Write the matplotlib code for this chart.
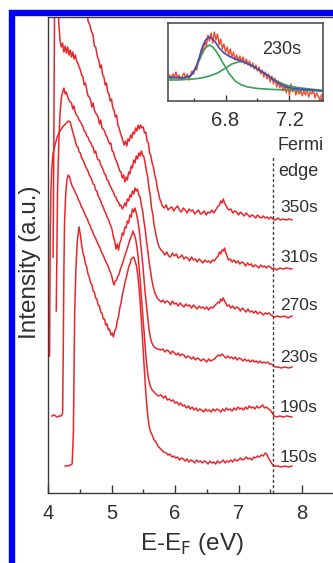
import numpy as np
import matplotlib.pyplot as plt
from matplotlib.patches import Rectangle
from matplotlib.ticker import MultipleLocator

plt.rcParams['font.family'] = ['Liberation Sans', 'DejaVu Sans']

# photoemission spectra, (E - E_F [eV], intensity [a.u.]), already offset
s350 = [(4.00, 600), (4.05, 690), (4.10, 700), (4.20, 680), (4.30, 640), (4.40, 600), (4.50, 560), (4.58, 520),
        (4.61, 490), (4.63, 472), (4.66, 468), (4.68, 462), (4.71, 458), (4.73, 447), (4.75, 446), (4.78, 436),
        (4.80, 433), (4.82, 425), (4.84, 428), (4.86, 418), (4.88, 416), (4.90, 408), (4.92, 410), (4.94, 401),
        (4.96, 399), (4.98, 392), (5.00, 394), (5.02, 385), (5.04, 383), (5.06, 376), (5.08, 378), (5.10, 368),
        (5.12, 365), (5.14, 360), (5.16, 356), (5.18, 352), (5.20, 348), (5.22, 352), (5.24, 347), (5.26, 354),
        (5.28, 352), (5.30, 358), (5.32, 355), (5.34, 361), (5.36, 359), (5.38, 365), (5.40, 362), (5.42, 368),
        (5.44, 364), (5.46, 368), (5.48, 365), (5.50, 366), (5.52, 360), (5.54, 361), (5.56, 352), (5.58, 350),
        (5.60, 340), (5.62, 337), (5.64, 330), (5.66, 326), (5.68, 318), (5.70, 314), (5.72, 305), (5.74, 300),
        (5.76, 294), (5.78, 291), (5.80, 287), (5.83, 285), (5.86, 288), (5.89, 283), (5.92, 285), (5.95, 286),
        (5.98, 282), (6.01, 285), (6.04, 287), (6.07, 283), (6.10, 281), (6.13, 285), (6.16, 283), (6.19, 280),
        (6.22, 284), (6.25, 282), (6.28, 283), (6.31, 279), (6.34, 281), (6.37, 283), (6.40, 279), (6.43, 280),
        (6.46, 282), (6.49, 278), (6.52, 281), (6.55, 280), (6.58, 283), (6.61, 280), (6.64, 283), (6.67, 286),
        (6.70, 288), (6.72, 292), (6.74, 290), (6.76, 294), (6.78, 290), (6.80, 288), (6.82, 285), (6.85, 283),
        (6.88, 284), (6.91, 280), (6.94, 282), (6.97, 281), (7.00, 278), (7.03, 281), (7.06, 279), (7.09, 277),
        (7.12, 280), (7.15, 278), (7.18, 276), (7.21, 278), (7.24, 277), (7.27, 275), (7.30, 278), (7.33, 276),
        (7.36, 275), (7.39, 277), (7.42, 275), (7.45, 276), (7.48, 274), (7.51, 276), (7.54, 274), (7.58, 273),
        (7.62, 275), (7.66, 273), (7.70, 274), (7.75, 273), (7.80, 274), (7.84, 273)]

s310 = [(4.08, 236), (4.09, 330), (4.10, 450), (4.11, 560), (4.13, 600), (4.15, 520), (4.17, 470), (4.19, 452),
        (4.21, 446), (4.23, 450), (4.25, 441), (4.27, 447), (4.29, 440), (4.31, 446), (4.33, 438), (4.35, 443),
        (4.37, 436), (4.39, 441), (4.41, 434), (4.43, 438), (4.45, 432), (4.47, 430), (4.49, 426), (4.51, 423),
        (4.53, 418), (4.55, 416), (4.57, 408), (4.59, 410), (4.61, 403), (4.63, 397), (4.65, 396), (4.67, 393),
        (4.69, 386), (4.71, 390), (4.73, 383), (4.75, 380), (4.77, 378), (4.79, 376), (4.81, 369), (4.83, 373),
        (4.85, 365), (4.87, 364), (4.89, 362), (4.91, 358), (4.93, 356), (4.95, 352), (4.97, 349), (4.99, 350),
        (5.01, 342), (5.03, 341), (5.05, 336), (5.07, 333), (5.09, 330), (5.11, 326), (5.13, 322), (5.15, 321),
        (5.17, 315), (5.19, 318), (5.21, 311), (5.23, 316), (5.25, 313), (5.27, 321), (5.29, 319), (5.31, 327),
        (5.33, 325), (5.35, 333), (5.37, 330), (5.39, 337), (5.41, 334), (5.43, 340), (5.45, 337), (5.47, 342),
        (5.49, 338), (5.51, 336), (5.53, 330), (5.55, 322), (5.57, 316), (5.59, 305), (5.61, 298), (5.63, 285),
        (5.65, 279), (5.67, 268), (5.69, 262), (5.71, 255), (5.73, 250), (5.75, 246), (5.78, 243), (5.81, 241),
        (5.84, 238), (5.87, 241), (5.90, 237), (5.93, 236), (5.96, 240), (5.99, 237), (6.02, 239), (6.05, 235),
        (6.08, 236), (6.11, 238), (6.14, 234), (6.17, 236), (6.20, 235), (6.23, 232), (6.26, 236), (6.29, 233),
        (6.32, 234), (6.35, 231), (6.38, 234), (6.41, 232), (6.44, 230), (6.47, 233), (6.50, 231), (6.53, 232),
        (6.56, 230), (6.59, 233), (6.62, 232), (6.65, 235), (6.68, 237), (6.70, 241), (6.72, 239), (6.74, 243),
        (6.76, 242), (6.78, 245), (6.80, 240), (6.82, 237), (6.84, 233), (6.87, 234), (6.90, 231), (6.93, 233),
        (6.96, 230), (6.99, 232), (7.02, 229), (7.05, 231), (7.08, 230), (7.11, 227), (7.14, 230), (7.17, 228),
        (7.20, 229), (7.23, 226), (7.26, 228), (7.29, 227), (7.32, 225), (7.35, 228), (7.38, 226), (7.41, 227),
        (7.44, 225), (7.47, 227), (7.50, 226), (7.53, 224), (7.56, 225), (7.60, 223), (7.65, 225), (7.70, 224),
        (7.76, 225), (7.84, 224)]

s270 = [(4.13, 182), (4.14, 240), (4.15, 300), (4.17, 350), (4.19, 380), (4.21, 395), (4.23, 401), (4.25, 405),
        (4.27, 399), (4.29, 401), (4.31, 396), (4.33, 393), (4.35, 391), (4.37, 390), (4.39, 384), (4.41, 387),
        (4.43, 380), (4.45, 378), (4.47, 376), (4.49, 373), (4.51, 371), (4.53, 369), (4.55, 366), (4.57, 362),
        (4.59, 361), (4.61, 357), (4.63, 356), (4.65, 352), (4.67, 351), (4.69, 347), (4.71, 346), (4.73, 340),
        (4.75, 342), (4.77, 336), (4.79, 333), (4.81, 333), (4.83, 328), (4.85, 326), (4.87, 323), (4.89, 319),
        (4.91, 318), (4.93, 313), (4.95, 312), (4.97, 308), (4.99, 306), (5.01, 303), (5.03, 301), (5.05, 297),
        (5.07, 296), (5.09, 292), (5.11, 291), (5.13, 287), (5.15, 288), (5.17, 284), (5.19, 286), (5.21, 290),
        (5.23, 287), (5.25, 294), (5.27, 292), (5.29, 298), (5.31, 296), (5.33, 302), (5.35, 299), (5.37, 305),
        (5.39, 302), (5.41, 304), (5.43, 298), (5.45, 296), (5.47, 288), (5.49, 282), (5.51, 272), (5.53, 264),
        (5.55, 252), (5.57, 243), (5.59, 232), (5.61, 224), (5.63, 215), (5.65, 208), (5.67, 203), (5.69, 199),
        (5.72, 195), (5.75, 193), (5.78, 191), (5.81, 193), (5.84, 190), (5.87, 192), (5.90, 191), (5.93, 188),
        (5.96, 192), (5.99, 189), (6.02, 190), (6.05, 187), (6.08, 190), (6.11, 188), (6.14, 186), (6.17, 189),
        (6.20, 187), (6.23, 188), (6.26, 185), (6.29, 188), (6.32, 186), (6.35, 184), (6.38, 187), (6.41, 185),
        (6.44, 186), (6.47, 184), (6.50, 186), (6.53, 183), (6.56, 186), (6.59, 185), (6.62, 187), (6.65, 189),
        (6.68, 191), (6.70, 190), (6.72, 194), (6.74, 192), (6.76, 195), (6.78, 192), (6.80, 190), (6.82, 187),
        (6.85, 188), (6.88, 185), (6.91, 187), (6.94, 184), (6.97, 186), (7.00, 185), (7.03, 182), (7.06, 185),
        (7.09, 183), (7.12, 181), (7.15, 184), (7.18, 181), (7.21, 182), (7.24, 180), (7.27, 182), (7.30, 179),
        (7.33, 181), (7.36, 180), (7.39, 178), (7.42, 180), (7.45, 179), (7.48, 180), (7.51, 178), (7.54, 177),
        (7.57, 176), (7.61, 177), (7.66, 176), (7.72, 177), (7.78, 175), (7.84, 177)]

s230 = [(4.00, 136), (4.025, 137), (4.03, 200), (4.035, 260), (4.045, 300), (4.06, 325), (4.08, 340), (4.11, 348),
        (4.14, 355), (4.17, 360), (4.20, 363), (4.23, 366), (4.26, 368), (4.29, 370), (4.32, 372), (4.35, 371),
        (4.37, 366), (4.39, 361), (4.41, 357), (4.43, 352), (4.45, 347), (4.47, 346), (4.49, 341), (4.51, 340),
        (4.53, 335), (4.55, 333), (4.57, 330), (4.59, 327), (4.61, 324), (4.63, 322), (4.65, 318), (4.67, 316),
        (4.69, 313), (4.71, 309), (4.73, 308), (4.75, 303), (4.77, 302), (4.79, 297), (4.81, 295), (4.83, 292),
        (4.85, 288), (4.87, 286), (4.89, 282), (4.91, 280), (4.93, 276), (4.95, 274), (4.97, 270), (4.99, 267),
        (5.01, 263), (5.03, 256), (5.05, 252), (5.07, 244), (5.09, 249), (5.11, 243), (5.13, 250), (5.15, 253),
        (5.17, 260), (5.19, 258), (5.21, 266), (5.23, 265), (5.25, 272), (5.27, 270), (5.29, 278), (5.31, 276),
        (5.33, 284), (5.35, 281), (5.37, 285), (5.39, 280), (5.41, 274), (5.43, 266), (5.45, 255), (5.47, 243),
        (5.49, 230), (5.51, 215), (5.53, 200), (5.55, 188), (5.57, 175), (5.59, 164), (5.61, 156), (5.63, 151),
        (5.66, 147), (5.69, 145), (5.73, 144), (5.77, 143), (5.81, 144), (5.84, 141), (5.87, 143), (5.90, 142),
        (5.93, 139), (5.96, 142), (5.99, 140), (6.02, 138), (6.05, 140), (6.08, 137), (6.11, 139), (6.14, 138),
        (6.17, 135), (6.20, 137), (6.23, 136), (6.26, 134), (6.29, 136), (6.32, 133), (6.35, 135), (6.38, 134),
        (6.41, 132), (6.44, 134), (6.47, 133), (6.50, 131), (6.53, 134), (6.56, 132), (6.59, 133), (6.62, 134),
        (6.65, 136), (6.68, 138), (6.71, 137), (6.74, 139), (6.77, 137), (6.80, 135), (6.83, 137), (6.86, 135),
        (6.89, 136), (6.92, 134), (6.95, 136), (6.98, 133), (7.01, 135), (7.04, 134), (7.07, 132), (7.10, 134),
        (7.13, 132), (7.16, 133), (7.19, 131), (7.22, 133), (7.25, 131), (7.28, 132), (7.31, 130), (7.34, 132),
        (7.37, 130), (7.40, 131), (7.43, 130), (7.46, 131), (7.49, 129), (7.52, 129), (7.55, 127), (7.58, 126),
        (7.62, 126), (7.67, 125), (7.73, 126), (7.79, 125), (7.84, 126)]

s190 = [(4.06, 77), (4.10, 78), (4.14, 76), (4.18, 77), (4.21, 77), (4.23, 80), (4.24, 140), (4.25, 220),
        (4.26, 270), (4.28, 300), (4.30, 314), (4.32, 318), (4.34, 316), (4.36, 311), (4.38, 307), (4.40, 305),
        (4.42, 302), (4.44, 299), (4.46, 297), (4.48, 293), (4.50, 291), (4.52, 287), (4.54, 285), (4.56, 282),
        (4.58, 279), (4.60, 276), (4.62, 274), (4.64, 270), (4.66, 268), (4.68, 264), (4.70, 262), (4.72, 258),
        (4.74, 256), (4.76, 253), (4.78, 250), (4.80, 247), (4.82, 245), (4.84, 241), (4.86, 239), (4.88, 236),
        (4.90, 233), (4.92, 230), (4.94, 228), (4.96, 224), (4.98, 221), (5.00, 218), (5.02, 212), (5.04, 208),
        (5.06, 212), (5.08, 213), (5.10, 217), (5.12, 219), (5.14, 224), (5.16, 227), (5.18, 231), (5.20, 235),
        (5.22, 239), (5.24, 243), (5.26, 247), (5.28, 251), (5.30, 255), (5.32, 258), (5.34, 262), (5.36, 258),
        (5.38, 254), (5.40, 246), (5.42, 236), (5.44, 222), (5.46, 205), (5.48, 188), (5.50, 170), (5.52, 153),
        (5.54, 138), (5.56, 125), (5.58, 115), (5.61, 107), (5.64, 103), (5.67, 101), (5.70, 99), (5.74, 97),
        (5.78, 98), (5.82, 95), (5.85, 97), (5.88, 93), (5.91, 94), (5.94, 92), (5.97, 93), (6.00, 90),
        (6.03, 91), (6.06, 88), (6.09, 90), (6.12, 87), (6.15, 88), (6.18, 85), (6.21, 87), (6.24, 84),
        (6.27, 86), (6.30, 83), (6.33, 85), (6.36, 82), (6.39, 84), (6.42, 83), (6.45, 81), (6.48, 84),
        (6.51, 82), (6.54, 83), (6.57, 81), (6.60, 84), (6.63, 82), (6.66, 84), (6.69, 83), (6.72, 81),
        (6.75, 84), (6.78, 82), (6.81, 85), (6.84, 83), (6.87, 84), (6.90, 82), (6.93, 85), (6.96, 83),
        (6.99, 86), (7.02, 84), (7.05, 85), (7.08, 83), (7.11, 86), (7.14, 84), (7.17, 87), (7.20, 85),
        (7.23, 86), (7.26, 84), (7.29, 87), (7.32, 85), (7.35, 86), (7.38, 88), (7.41, 85), (7.44, 86),
        (7.47, 84), (7.50, 83), (7.53, 80), (7.56, 77), (7.60, 76), (7.65, 77), (7.70, 76), (7.76, 77),
        (7.84, 76)]

s150 = [(4.27, 27), (4.31, 27), (4.35, 28), (4.38, 29), (4.40, 60), (4.41, 120), (4.42, 180), (4.44, 225),
        (4.46, 250), (4.48, 262), (4.49, 266), (4.51, 258), (4.53, 248), (4.55, 240), (4.57, 236), (4.59, 229),
        (4.61, 226), (4.63, 219), (4.65, 216), (4.67, 210), (4.69, 209), (4.71, 202), (4.73, 201), (4.75, 195),
        (4.77, 194), (4.79, 188), (4.81, 187), (4.83, 181), (4.85, 180), (4.87, 174), (4.89, 174), (4.91, 168),
        (4.93, 169), (4.95, 163), (4.97, 164), (4.99, 158), (5.01, 160), (5.03, 156), (5.05, 162), (5.07, 164),
        (5.09, 172), (5.11, 176), (5.13, 185), (5.15, 190), (5.17, 198), (5.19, 203), (5.21, 210), (5.23, 215),
        (5.25, 220), (5.27, 226), (5.29, 229), (5.31, 234), (5.33, 235), (5.35, 236), (5.37, 232), (5.39, 228),
        (5.41, 220), (5.43, 208), (5.45, 192), (5.47, 173), (5.49, 152), (5.51, 130), (5.53, 110), (5.55, 92),
        (5.57, 78), (5.59, 68), (5.61, 62), (5.64, 58), (5.67, 53), (5.70, 51), (5.73, 47), (5.76, 45),
        (5.79, 43), (5.82, 41), (5.86, 40), (5.89, 38), (5.92, 39), (5.95, 36), (5.98, 37), (6.01, 35),
        (6.04, 36), (6.07, 33), (6.10, 35), (6.13, 34), (6.16, 32), (6.19, 34), (6.22, 31), (6.25, 33),
        (6.28, 32), (6.31, 30), (6.34, 33), (6.37, 31), (6.40, 32), (6.43, 30), (6.46, 32), (6.49, 31),
        (6.52, 29), (6.55, 32), (6.58, 30), (6.61, 31), (6.64, 29), (6.67, 32), (6.70, 30), (6.73, 31),
        (6.76, 33), (6.79, 30), (6.82, 32), (6.85, 31), (6.88, 33), (6.91, 31), (6.94, 34), (6.97, 32),
        (7.00, 33), (7.03, 35), (7.06, 33), (7.09, 34), (7.12, 36), (7.15, 34), (7.18, 35), (7.21, 33),
        (7.24, 36), (7.27, 35), (7.30, 37), (7.33, 36), (7.36, 38), (7.39, 37), (7.41, 39), (7.43, 40),
        (7.45, 38), (7.48, 34), (7.51, 31), (7.54, 28), (7.57, 27), (7.62, 27), (7.67, 26), (7.73, 27),
        (7.79, 26), (7.84, 27)]

spectra = [s350, s310, s270, s230, s190, s150]
time_labels = ['350s', '310s', '270s', '230s', '190s', '150s']
label_levels = [285, 236, 188, 136, 85, 36]
fermi_edge = 7.55

# inset: 230s spectrum around 6.8 eV with two-peak fit
inset_data = [(6.45, 26), (6.46, 22), (6.47, 27), (6.48, 24), (6.49, 29), (6.50, 23), (6.51, 26), (6.52, 21),
              (6.53, 25), (6.54, 28), (6.55, 23), (6.56, 27), (6.57, 21), (6.58, 26), (6.59, 30), (6.60, 27),
              (6.61, 33), (6.62, 31), (6.63, 40), (6.64, 44), (6.65, 52), (6.66, 48), (6.67, 60), (6.68, 55),
              (6.69, 66), (6.70, 60), (6.71, 68), (6.72, 58), (6.73, 69), (6.74, 61), (6.75, 67), (6.76, 56),
              (6.77, 62), (6.78, 52), (6.79, 57), (6.80, 49), (6.81, 54), (6.82, 46), (6.83, 52), (6.84, 44),
              (6.85, 49), (6.86, 41), (6.87, 46), (6.88, 40), (6.89, 45), (6.90, 39), (6.91, 44), (6.92, 37),
              (6.93, 42), (6.94, 36), (6.95, 40), (6.96, 34), (6.97, 38), (6.98, 32), (6.99, 36), (7.00, 30),
              (7.01, 34), (7.02, 27), (7.03, 31), (7.04, 24), (7.05, 29), (7.06, 22), (7.07, 27), (7.08, 19),
              (7.09, 25), (7.10, 17), (7.11, 23), (7.12, 14), (7.13, 20), (7.14, 13), (7.15, 18), (7.16, 10),
              (7.17, 16), (7.18, 8), (7.19, 15), (7.20, 6), (7.21, 17), (7.22, 9), (7.23, 14), (7.24, 6),
              (7.25, 12), (7.26, 7), (7.27, 11), (7.28, 5), (7.29, 10), (7.30, 6), (7.31, 12), (7.32, 4),
              (7.33, 9), (7.34, 7), (7.35, 11), (7.36, 3), (7.37, 8), (7.38, 5), (7.39, 1), (7.40, 6), (7.41, 4)]
inset_fit = [(6.45, 24), (6.50, 23.5), (6.54, 23), (6.58, 25), (6.60, 29), (6.62, 36), (6.64, 46), (6.66, 56),
             (6.68, 62), (6.70, 64), (6.72, 62), (6.74, 58), (6.76, 53), (6.79, 48), (6.82, 45), (6.86, 42),
             (6.90, 40), (6.94, 37), (6.98, 34), (7.02, 30), (7.06, 26), (7.10, 21), (7.14, 17), (7.18, 14),
             (7.22, 12.5), (7.26, 12), (7.30, 11.5), (7.35, 11), (7.41, 10)]
inset_peak1 = [(6.45, 23), (6.50, 23), (6.54, 23.5), (6.58, 25), (6.60, 29), (6.62, 35), (6.64, 42), (6.66, 50),
               (6.68, 54), (6.70, 56), (6.72, 54), (6.74, 50), (6.76, 45), (6.78, 39), (6.80, 34), (6.82, 28),
               (6.84, 24), (6.86, 20), (6.90, 16), (6.94, 14), (7.00, 12.5), (7.10, 11.5), (7.20, 11),
               (7.30, 10.5), (7.41, 10)]
inset_peak2 = [(6.45, 21), (6.50, 21), (6.55, 21.5), (6.60, 22), (6.65, 23), (6.70, 25), (6.75, 28), (6.80, 33),
               (6.84, 37), (6.88, 39), (6.90, 39.5), (6.92, 39), (6.96, 36), (7.00, 32), (7.04, 28), (7.08, 24),
               (7.12, 20), (7.16, 17), (7.20, 15), (7.25, 13.5), (7.30, 12.5), (7.41, 10.5)]

red = '#e8262b'
text_color = '#303030'
spine_color = '#3a3a3a'

fig = plt.figure(figsize=(3.33, 5.63), dpi=100)

ax = fig.add_axes([48 / 333, 70 / 563, 288 / 333, 476 / 563])
for spectrum in spectra:
    e, i = np.array(spectrum).T
    ax.plot(e, i, color=red, lw=1.1)

ax.set_xlim(4, 8.535)
ax.set_ylim(0, 476)
ax.set_yticks([])
ax.xaxis.set_major_locator(MultipleLocator(1))
ax.xaxis.set_minor_locator(MultipleLocator(0.5))
ax.tick_params(axis='x', which='both', direction='in', width=1.0, colors=spine_color,
               labelcolor=text_color, labelsize=14.5, pad=8)
ax.tick_params(axis='x', which='major', length=5.5)
ax.tick_params(axis='x', which='minor', length=3)
for sp in ax.spines.values():
    sp.set_color(spine_color)
    sp.set_linewidth(1.0)

ax.set_xlabel('E-E$_\\mathrm{F}$ (eV)', fontsize=17.5, color=text_color, labelpad=6)
ax.set_ylabel('Intensity (a.u.)', fontsize=17.5, color=text_color)
ax.yaxis.set_label_coords(-0.025, 0.485)

ax.plot([fermi_edge, fermi_edge], [0, 336], color='#404040', lw=1.0, ls=(0, (2.2, 1.6)))
ax.text(7.62, 348, 'Fermi', fontsize=13, color=text_color, va='center')
ax.text(7.63, 321, 'edge', fontsize=13, color=text_color, va='center')
for lab, level in zip(time_labels, label_levels):
    ax.text(7.655, level, lab, fontsize=12.5, color=text_color, va='center')

# inset
ins = fig.add_axes([168 / 333, 462 / 563, 155 / 333, 78 / 563])
e, i = np.array(inset_data).T
ins.plot(e, i, color='#f04a2a', lw=1.0)
for curve in [inset_peak1, inset_peak2]:
    e, i = np.array(curve).T
    ins.plot(e, i, color='#3d9e5a', lw=1.2)
e, i = np.array(inset_fit).T
ins.plot(e, i, color='#4a4ab8', lw=1.2)
ins.set_xlim(6.44, 7.41)
ins.set_ylim(0, 78)
ins.set_yticks([])
ins.set_xticks([6.8, 7.2])
ins.set_xticklabels(['6.8', '7.2'])
ins.xaxis.set_minor_locator(MultipleLocator(0.2))
ins.tick_params(axis='x', which='both', direction='in', width=1.0, colors=spine_color,
                labelcolor=text_color, labelsize=14.5, pad=7)
ins.tick_params(axis='x', which='major', length=4)
ins.tick_params(axis='x', which='minor', length=2.5)
for sp in ins.spines.values():
    sp.set_color('#505050')
    sp.set_linewidth(1.2)
ins.text(7.03, 51, '230s', fontsize=13, color=text_color, va='center')

# blue frame of the original figure panel
fig.add_artist(Rectangle((11.5 / 333, -0.5), 2, (563 - 12.5) / 563 + 0.5, transform=fig.transFigure,
                         fill=False, edgecolor='#0000f5', lw=4.6, clip_on=False))

fig.savefig('out.png', dpi=100)
